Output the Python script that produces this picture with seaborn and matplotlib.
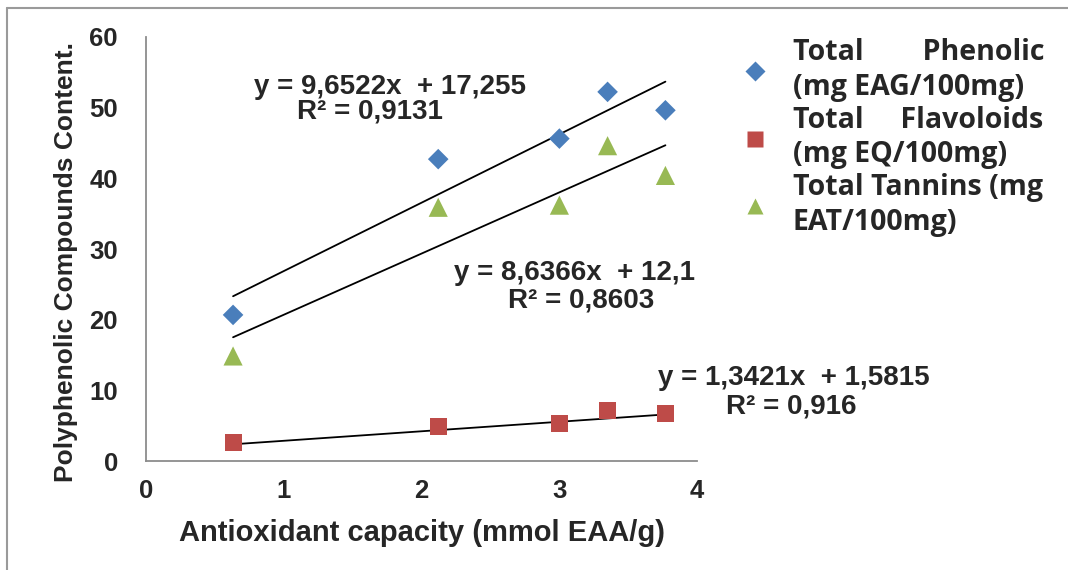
import matplotlib.pyplot as plt
import seaborn as sns
import pandas as pd
from matplotlib.lines import Line2D

# Data
capacity = [0.63, 2.12, 3.0, 3.35, 3.77]
phenolic = [20.7, 42.7, 45.6, 52.2, 49.6]
flavoloids = [2.7, 5.0, 5.3, 7.2, 6.8]
tannins = [14.9, 35.9, 36.2, 44.6, 40.4]

series_names = ["Total        Phenolic\n(mg EAG/100mg)",
                "Total     Flavoloids\n(mg EQ/100mg)",
                "Total Tannins (mg\nEAT/100mg)"]
series_colors = ["#4A7EBB", "#BE4B48", "#98B954"]
series_markers = ["D", "s", "^"]
series_sizes = [110, 150, 190]

# trendline coefficients printed on the chart
slopes = [9.6522, 1.3421, 8.6366]
intercepts = [17.255, 1.5815, 12.1]
eq_labels = ["y = 9,6522x  + 17,255", "y = 1,3421x  + 1,5815", "y = 8,6366x  + 12,1"]
r2_labels = ["R² = 0,9131", "R² = 0,916", "R² = 0,8603"]

df = pd.DataFrame({
    "x": capacity * 3,
    "y": phenolic + flavoloids + tannins,
    "series": [series_names[0]] * 5 + [series_names[1]] * 5 + [series_names[2]] * 5,
})

sns.set_style("white")
plt.rcParams['font.family'] = ['Liberation Sans', 'DejaVu Sans']

fig = plt.figure(figsize=(10.68, 5.70), dpi=100)
ax = fig.add_axes([0.137, 0.1904, 0.5157, 0.7453])

sns.scatterplot(data=df, x="x", y="y", hue="series", style="series", size="series",
                palette=dict(zip(series_names, series_colors)),
                markers=dict(zip(series_names, series_markers)),
                sizes=dict(zip(series_names, series_sizes)),
                edgecolor="none", ax=ax, zorder=3)

# trend lines from the printed equations
for i in range(3):
    x0, x1 = min(capacity), max(capacity)
    ax.plot([x0, x1], [slopes[i] * x0 + intercepts[i], slopes[i] * x1 + intercepts[i]],
            color="black", lw=1.3, zorder=2)

ax.set_xlim(0, 4)
ax.set_ylim(0, 60)
ax.set_xticks(range(0, 5))
ax.set_yticks(range(0, 61, 10))
for s in ["top", "right"]:
    ax.spines[s].set_visible(False)
for s in ["left", "bottom"]:
    ax.spines[s].set_color("#8c8c8c")
    ax.spines[s].set_linewidth(1.3)
ax.tick_params(axis="both", direction="out", width=1.3, color="#8c8c8c", labelsize=18.5)
ax.tick_params(axis="y", length=6.5, pad=14)
ax.tick_params(axis="x", length=4.5, pad=8)
for lab in ax.get_xticklabels() + ax.get_yticklabels():
    lab.set_fontweight("bold")

ax.set_xlabel("Antioxidant capacity (mmol EAA/g)", fontsize=21, fontweight="bold", labelpad=12)
ax.set_ylabel("Polyphenolic Compounds Content.", fontsize=19, fontweight="bold")
ax.yaxis.set_label_coords(-0.124, 0.47)

# equation annotations (pixel centres)
eq_pos = [(390, 87), (794, 378), (574, 273)]
r2_pos = [(370, 112), (791, 407), (581, 300)]
for i in range(3):
    fig.text(eq_pos[i][0] / 1068, 1 - eq_pos[i][1] / 570, eq_labels[i], ha="center",
             va="center", fontsize=20, fontweight="bold")
    fig.text(r2_pos[i][0] / 1068, 1 - r2_pos[i][1] / 570, r2_labels[i], ha="center",
             va="center", fontsize=20, fontweight="bold")

# legend
leg = ax.legend(loc="upper left", bbox_to_anchor=(1.08, 0.996), frameon=False,
                handlelength=1.0, handletextpad=0.82, labelspacing=0.14,
                borderaxespad=0, borderpad=0,
                prop={"family": "Open Sans", "weight": "bold", "size": 20.5})
for t in leg.get_texts():
    t.set_linespacing(1.25)
for h, sz in zip(leg.legend_handles, [10, 11, 12]):
    h.set_markersize(sz)

# outer frame lines (top and left)
fig.add_artist(Line2D([0.0066, 1.0], [0.986, 0.986], color="#9a9a9a", lw=1.5))
fig.add_artist(Line2D([0.0066, 0.0066], [0.0, 0.986], color="#9a9a9a", lw=1.5))

fig.savefig("out.png", dpi=100)
